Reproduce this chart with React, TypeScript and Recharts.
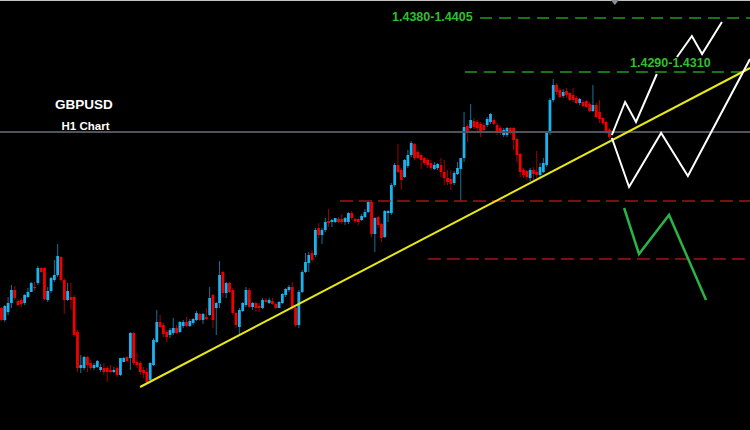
import React from "react";
import { ComposedChart, Bar, Line, Scatter, XAxis, YAxis } from "recharts";

// GBPUSD H1 candles (oldest first)
const opens = [
  1.3820, 1.3796, 1.3812, 1.3830, 1.3856, 1.3834, 1.3836, 1.3830, 1.3842, 1.3852,
  1.3862, 1.3870, 1.3900, 1.3900, 1.3836, 1.3854, 1.3876, 1.3886, 1.3922, 1.3876,
  1.3836, 1.3842, 1.3842, 1.3772, 1.3700, 1.3700, 1.3722, 1.3710, 1.3700, 1.3702,
  1.3696, 1.3700, 1.3700, 1.3696, 1.3692, 1.3700, 1.3686, 1.3712, 1.3722, 1.3720,
  1.3770, 1.3712, 1.3710, 1.3696, 1.3692, 1.3676, 1.3706, 1.3752, 1.3792, 1.3786,
  1.3772, 1.3766, 1.3770, 1.3780, 1.3772, 1.3784, 1.3792, 1.3784, 1.3790, 1.3796,
  1.3808, 1.3796, 1.3802, 1.3806, 1.3846, 1.3820, 1.3830, 1.3892, 1.3850, 1.3870,
  1.3856, 1.3810, 1.3782, 1.3814, 1.3826, 1.3856, 1.3822, 1.3830, 1.3824, 1.3820,
  1.3836, 1.3830, 1.3834, 1.3828, 1.3820, 1.3830, 1.3846, 1.3856, 1.3862, 1.3820,
  1.3786, 1.3852, 1.3892, 1.3910, 1.3930, 1.3926, 1.3980, 1.3966, 1.3976, 1.3994,
  1.3992, 1.3992, 1.3998, 1.3998, 1.3992, 1.3992, 1.4010, 1.3998, 1.3998, 1.3996,
  1.4002, 1.4012, 1.4032, 1.3968, 1.4002, 1.3988, 1.3962, 1.4010, 1.4010, 1.4066,
  1.4106, 1.4096, 1.4082, 1.4104, 1.4126, 1.4148, 1.4132, 1.4126,
  1.4120, 1.4116, 1.4110, 1.4098, 1.4100,
  1.4106, 1.4092, 1.4080, 1.4078, 1.4070, 1.4088, 1.4098, 1.4120, 1.4184, 1.4180,
  1.4194, 1.4192, 1.4188, 1.4186, 1.4186, 1.4192, 1.4196,
  1.4186, 1.4180, 1.4166, 1.4166,
  1.4180, 1.4180, 1.4158, 1.4128, 1.4096, 1.4094, 1.4080, 1.4096, 1.4092, 1.4086,
  1.4092, 1.4106, 1.4170, 1.4236, 1.4266, 1.4256,
  1.4244, 1.4254, 1.4250, 1.4246, 1.4240, 1.4230, 1.4232,
  1.4234, 1.4228, 1.4214, 1.4226, 1.4212, 1.4200, 1.4192, 1.4176,
];

const highs = [
  1.3822, 1.3826, 1.3842, 1.3866, 1.3864, 1.3838, 1.3840, 1.3848, 1.3860, 1.3872,
  1.3872, 1.3904, 1.3902, 1.3902, 1.3862, 1.3882, 1.3916, 1.3948, 1.3924, 1.3880,
  1.3870, 1.3870, 1.3846, 1.3776, 1.3726, 1.3724, 1.3724, 1.3716, 1.3710, 1.3716,
  1.3708, 1.3710, 1.3704, 1.3706, 1.3702, 1.3704, 1.3720, 1.3722, 1.3724, 1.3772,
  1.3772, 1.3730, 1.3714, 1.3702, 1.3700, 1.3712, 1.3760, 1.3816, 1.3806, 1.3790,
  1.3776, 1.3780, 1.3800, 1.3786, 1.3794, 1.3796, 1.3802, 1.3798, 1.3800, 1.3814,
  1.3810, 1.3810, 1.3820, 1.3862, 1.3848, 1.3832, 1.3914, 1.3894, 1.3872, 1.3872,
  1.3860, 1.3812, 1.3820, 1.3832, 1.3862, 1.3860, 1.3832, 1.3832, 1.3830, 1.3840,
  1.3840, 1.3840, 1.3840, 1.3832, 1.3834, 1.3850, 1.3860, 1.3866, 1.3872, 1.3822,
  1.3856, 1.3896, 1.3930, 1.3932, 1.3936, 1.3980, 1.3990, 1.3980, 1.4000, 1.4018,
  1.3998, 1.4000, 1.4002, 1.4008, 1.4002, 1.4012, 1.4014, 1.4000, 1.4000, 1.4008,
  1.4018, 1.4034, 1.4034, 1.4002, 1.4004, 1.3990, 1.4016, 1.4016, 1.4070, 1.4110,
  1.4148, 1.4100, 1.4118, 1.4136, 1.4154, 1.4150, 1.4136, 1.4130,
  1.4122, 1.4120, 1.4116, 1.4112, 1.4110,
  1.4120, 1.4116, 1.4096, 1.4096, 1.4094, 1.4112, 1.4120, 1.4212, 1.4188, 1.4228,
  1.4200, 1.4196, 1.4192, 1.4190, 1.4202, 1.4210, 1.4200,
  1.4190, 1.4184, 1.4180, 1.4182,
  1.4182, 1.4182, 1.4160, 1.4130, 1.4100, 1.4096, 1.4100, 1.4102, 1.4134, 1.4110,
  1.4120, 1.4174, 1.4240, 1.4278, 1.4270, 1.4260,
  1.4258, 1.4260, 1.4252, 1.4260, 1.4244, 1.4240, 1.4236,
  1.4236, 1.4232, 1.4266, 1.4230, 1.4236, 1.4202, 1.4194, 1.4180,
];

const lows = [
  1.3794, 1.3792, 1.3806, 1.3820, 1.3836, 1.3824, 1.3822, 1.3826, 1.3840, 1.3852,
  1.3854, 1.3866, 1.3890, 1.3836, 1.3832, 1.3850, 1.3872, 1.3882, 1.3872, 1.3808,
  1.3834, 1.3816, 1.3762, 1.3692, 1.3690, 1.3696, 1.3692, 1.3696, 1.3696, 1.3700,
  1.3692, 1.3686, 1.3672, 1.3690, 1.3690, 1.3682, 1.3684, 1.3712, 1.3712, 1.3696,
  1.3706, 1.3700, 1.3686, 1.3680, 1.3670, 1.3672, 1.3704, 1.3750, 1.3780, 1.3762,
  1.3752, 1.3760, 1.3766, 1.3768, 1.3770, 1.3780, 1.3782, 1.3782, 1.3786, 1.3794,
  1.3794, 1.3788, 1.3796, 1.3804, 1.3780, 1.3766, 1.3820, 1.3842, 1.3840, 1.3850,
  1.3806, 1.3780, 1.3768, 1.3812, 1.3822, 1.3820, 1.3816, 1.3812, 1.3812, 1.3818,
  1.3830, 1.3828, 1.3826, 1.3818, 1.3820, 1.3828, 1.3842, 1.3852, 1.3816, 1.3782,
  1.3780, 1.3850, 1.3890, 1.3892, 1.3912, 1.3922, 1.3960, 1.3948, 1.3972, 1.3982,
  1.3982, 1.3990, 1.3990, 1.3988, 1.3986, 1.3988, 1.3996, 1.3990, 1.3986, 1.3994,
  1.4000, 1.4010, 1.3962, 1.3932, 1.3980, 1.3952, 1.3960, 1.3992, 1.4006, 1.4062,
  1.4090, 1.4056, 1.4080, 1.4100, 1.4122, 1.4116, 1.4118, 1.4098,
  1.4106, 1.4100, 1.4096, 1.4096, 1.4096,
  1.4082, 1.4066, 1.4066, 1.4056, 1.4066, 1.4086, 1.4034, 1.4112, 1.4152, 1.4178,
  1.4178, 1.4172, 1.4162, 1.4172, 1.4182, 1.4188, 1.4186,
  1.4166, 1.4166, 1.4162, 1.4162,
  1.4166, 1.4136, 1.4112, 1.4082, 1.4080, 1.4076, 1.4074, 1.4076, 1.4080, 1.4082,
  1.4090, 1.4102, 1.4166, 1.4232, 1.4246, 1.4240,
  1.4240, 1.4240, 1.4234, 1.4232, 1.4228, 1.4226, 1.4222,
  1.4220, 1.4212, 1.4212, 1.4200, 1.4190, 1.4186, 1.4168, 1.4158,
];

const closes = [
  1.3796, 1.3824, 1.3830, 1.3856, 1.3840, 1.3826, 1.3828, 1.3846, 1.3852, 1.3870,
  1.3860, 1.3900, 1.3892, 1.3838, 1.3854, 1.3880, 1.3886, 1.3924, 1.3876, 1.3836,
  1.3854, 1.3836, 1.3766, 1.3700, 1.3706, 1.3722, 1.3706, 1.3700, 1.3706, 1.3714,
  1.3702, 1.3692, 1.3692, 1.3692, 1.3696, 1.3686, 1.3720, 1.3720, 1.3714, 1.3770,
  1.3710, 1.3706, 1.3692, 1.3690, 1.3672, 1.3710, 1.3756, 1.3792, 1.3782, 1.3768,
  1.3762, 1.3776, 1.3780, 1.3770, 1.3792, 1.3792, 1.3784, 1.3794, 1.3798, 1.3810,
  1.3796, 1.3808, 1.3798, 1.3840, 1.3796, 1.3830, 1.3886, 1.3850, 1.3870, 1.3852,
  1.3810, 1.3786, 1.3816, 1.3830, 1.3856, 1.3822, 1.3830, 1.3820, 1.3820, 1.3836,
  1.3832, 1.3836, 1.3828, 1.3820, 1.3832, 1.3848, 1.3858, 1.3862, 1.3820, 1.3786,
  1.3852, 1.3892, 1.3912, 1.3926, 1.3916, 1.3976, 1.3966, 1.3976, 1.3992, 1.3990,
  1.3996, 1.4000, 1.3992, 1.3992, 1.4000, 1.4010, 1.4000, 1.3994, 1.3992, 1.4004,
  1.4012, 1.4032, 1.3968, 1.4000, 1.3986, 1.3960, 1.4014, 1.4014, 1.4066, 1.4106,
  1.4092, 1.4076, 1.4116, 1.4126, 1.4150, 1.4120, 1.4120, 1.4116,
  1.4110, 1.4106, 1.4100, 1.4106, 1.4108,
  1.4092, 1.4080, 1.4072, 1.4068, 1.4090, 1.4100, 1.4120, 1.4182, 1.4172, 1.4196,
  1.4182, 1.4180, 1.4172, 1.4176, 1.4198, 1.4208, 1.4188,
  1.4170, 1.4170, 1.4176, 1.4180,
  1.4170, 1.4156, 1.4126, 1.4092, 1.4086, 1.4082, 1.4096, 1.4088, 1.4086, 1.4102,
  1.4110, 1.4170, 1.4236, 1.4266, 1.4252, 1.4242,
  1.4252, 1.4246, 1.4236, 1.4236, 1.4230, 1.4238, 1.4224,
  1.4222, 1.4214, 1.4226, 1.4202, 1.4198, 1.4190, 1.4172, 1.4162,
];

// bar slots across the window, incl. the empty space to the right of the last candle
const SLOTS = 227;

// drawn objects: x in bar slots, p = price
const trendLine = [{ x: 41.9, p: 1.3662 }, { x: 226.5, p: 1.4300 }];
const greyLevel = [{ x: -0.5, p: 1.4172 }, { x: 226.5, p: 1.4172 }];
const topBorder = [{ x: -0.5, p: 1.4435 }, { x: 226.5, p: 1.4435 }];
const greenTarget1 = [{ x: 144.8, p: 1.4400 }, { x: 226.5, p: 1.4400 }];
const greenTarget2 = [{ x: 140.2, p: 1.4292 }, { x: 226.5, p: 1.4292 }];
const redLevel1 = [{ x: 102.4, p: 1.4034 }, { x: 226.5, p: 1.4034 }];
const redLevel2 = [{ x: 129.0, p: 1.3918 }, { x: 226.5, p: 1.3918 }];
const whiteUp = [
  { x: 184.7, p: 1.4166 }, { x: 188.7, p: 1.4232 }, { x: 192.0, p: 1.4192 }, { x: 198.3, p: 1.4288 },
];
const whiteTop = [
  { x: 204.4, p: 1.4322 }, { x: 208.9, p: 1.4364 }, { x: 212.0, p: 1.4328 }, { x: 218.0, p: 1.4392 },
];
const whiteW = [
  { x: 184.7, p: 1.4160 }, { x: 189.9, p: 1.4062 }, { x: 199.6, p: 1.4170 },
  { x: 207.7, p: 1.4084 }, { x: 226.5, p: 1.4318 },
];
const greenDown = [
  { x: 188.4, p: 1.4020 }, { x: 192.9, p: 1.3928 }, { x: 202.0, p: 1.4006 }, { x: 213.2, p: 1.3836 },
];
const shiftMark = [{ x: 185.6, p: 1.4430 }];

const BULL = "#1cb2ee";
const BULL_WICK = "#17719a";
const BEAR = "#f00000";
const BEAR_WICK = "#a00000";

const rows = Array.from({ length: SLOTS }, (_, i) =>
  i < closes.length
    ? { i, o: opens[i], h: highs[i], l: lows[i], c: closes[i] }
    : { i, o: null, h: null, l: null, c: null }
);

function Candle(props: any) {
  const { x, y, width, height, payload } = props;
  if (!payload || payload.h == null) return null;
  const { o, h, l, c } = payload;
  const k = h === l ? 0 : height / (h - l);
  const cx = x + width / 2;
  const yo = y + (h - o) * k;
  const yc = y + (h - c) * k;
  const up = c >= o;
  const top = Math.min(yo, yc);
  const bh = Math.max(1, Math.abs(yc - yo));
  return (
    <g>
      <line x1={cx} x2={cx} y1={y} y2={y + height} stroke={up ? BULL_WICK : BEAR_WICK} strokeWidth={1} />
      <rect x={cx - 1.4} y={top} width={2.8} height={bh} fill={up ? BULL : BEAR} />
    </g>
  );
}

function ShiftMark(props: any) {
  const { cx, cy } = props;
  return <path d={`M${cx - 4},${cy - 3} L${cx + 4},${cy - 3} L${cx},${cy + 2} Z`} fill="#8a9099" />;
}

const lineProps = { xAxisId: "num", dataKey: "p", dot: false, activeDot: false, isAnimationActive: false } as const;

export default function App() {
  const font = "'Liberation Sans', Arial, sans-serif";
  return (
    <div style={{ position: "fixed", left: 0, top: 0, width: 750, height: 430, background: "#000", overflow: "hidden" }}>
      <ComposedChart width={750} height={430} data={rows} margin={{ top: 0, right: 0, bottom: 0, left: 0 }}>
        <XAxis xAxisId="cat" dataKey="i" type="category" hide />
        <XAxis xAxisId="num" dataKey="x" type="number" domain={[-0.5, SLOTS - 0.5]} allowDataOverflow hide />
        <YAxis type="number" domain={[1.3576, 1.4436]} allowDataOverflow hide />

        <Line {...lineProps} data={topBorder} stroke="#c4c4c4" strokeWidth={1} />
        <Line {...lineProps} data={greyLevel} stroke="#4f545c" strokeWidth={2} />
        <Line {...lineProps} data={greenTarget1} stroke="#1f9a1f" strokeWidth={1.3} strokeDasharray="12 7" />
        <Line {...lineProps} data={greenTarget2} stroke="#1f9a1f" strokeWidth={1.3} strokeDasharray="12 7" />
        <Line {...lineProps} data={redLevel1} stroke="#a31414" strokeWidth={1.7} strokeDasharray="13 6" />
        <Line {...lineProps} data={redLevel2} stroke="#a31414" strokeWidth={1.7} strokeDasharray="13 6" />

        <Bar xAxisId="cat" dataKey={(d: any) => (d.h == null ? null : [d.l, d.h])} barSize={3}
          shape={Candle} isAnimationActive={false} />

        <Line {...lineProps} data={trendLine} stroke="#e8e817" strokeWidth={2} />
        <Line {...lineProps} data={whiteUp} stroke="#ffffff" strokeWidth={2} />
        <Line {...lineProps} data={whiteTop} stroke="#ffffff" strokeWidth={2} />
        <Line {...lineProps} data={whiteW} stroke="#ffffff" strokeWidth={2} />
        <Line {...lineProps} data={greenDown} stroke="#28b446" strokeWidth={2.5} />
        <Scatter xAxisId="num" data={shiftMark} dataKey="p" shape={ShiftMark} isAnimationActive={false} />
      </ComposedChart>

      <svg width={750} height={430} style={{ position: "absolute", left: 0, top: 0, pointerEvents: "none" }}>
        <text x={84} y={109} textAnchor="middle" fill="#fff" fontFamily={font} fontWeight="bold" fontSize={13.5}>GBPUSD</text>
        <text x={85.5} y={130} textAnchor="middle" fill="#fff" fontFamily={font} fontWeight="bold" fontSize={11.5}>H1 Chart</text>
        <text x={392} y={20.5} fill="#2fbf2f" fontFamily={font} fontWeight="bold" fontSize={12.5}>1.4380-1.4405</text>
        <text x={630} y={67} fill="#2fbf2f" fontFamily={font} fontWeight="bold" fontSize={12.5}>1.4290-1.4310</text>
      </svg>
    </div>
  );
}
